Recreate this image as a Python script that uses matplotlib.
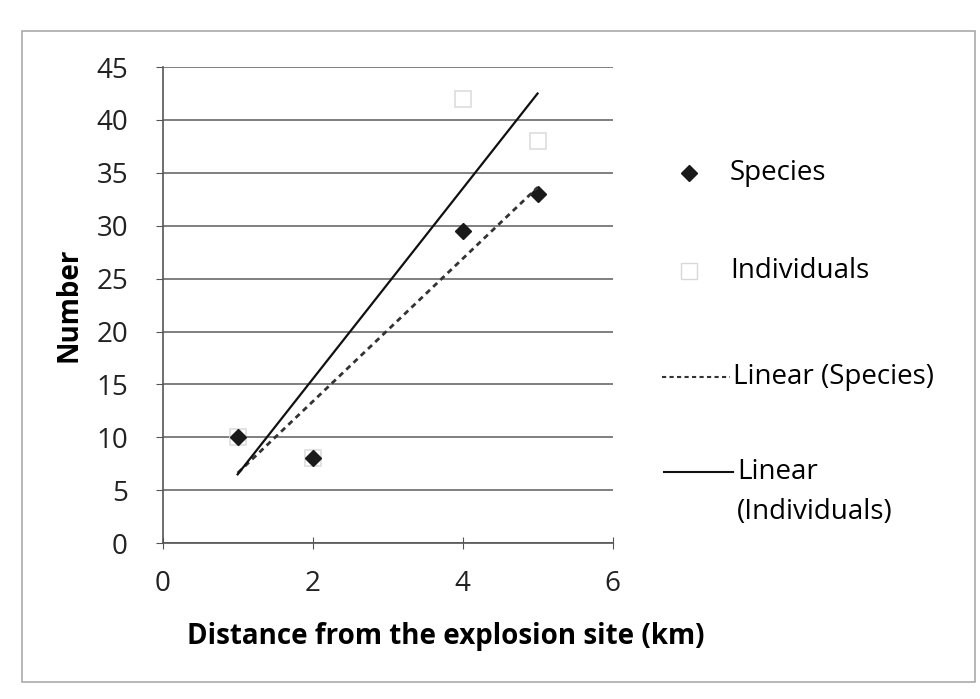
import numpy as np
import matplotlib.pyplot as plt
from matplotlib.patches import Rectangle
from matplotlib.lines import Line2D

# distance from explosion site (km) and counts
distance = [1, 2, 4, 5]
species = [10, 8, 29.5, 33]
individuals = [10, 8, 42, 38]

plt.rcParams['font.family'] = ['Open Sans', 'DejaVu Sans']

fig = plt.figure(figsize=(9.8, 6.99), dpi=100)
ax = fig.add_axes([0.166, 0.223, 0.459, 0.681])

# linear trendlines across the data range
xs = np.array([min(distance), max(distance)])
p_sp = np.polyfit(distance, species, 1)
p_ind = np.polyfit(distance, individuals, 1)

ax.plot(distance, individuals, 's', ms=12, mfc='white', mec='#dddddd', mew=1.2, zorder=3)
ax.plot(distance, species, 'D', ms=8, color='#1a1a1a', zorder=4)
ax.plot(xs, np.polyval(p_sp, xs), color='#333333', lw=2, ls=(0, (2, 1.6)), zorder=5)
ax.plot(xs, np.polyval(p_ind, xs), color='#111111', lw=1.6, zorder=5)

ax.set_xlim(0, 6)
ax.set_ylim(0, 45)
ax.set_xticks([0, 2, 4, 6])
ax.set_yticks(range(0, 50, 5))
ax.grid(axis='y', color='#6a6a6a', lw=1.2)
ax.set_axisbelow(True)
for s in ['top', 'right']:
    ax.spines[s].set_visible(False)
for s in ['left', 'bottom']:
    ax.spines[s].set_color('#555555')
    ax.spines[s].set_linewidth(1.2)
ax.tick_params(axis='both', labelsize=20, colors='#555555', labelcolor='#222222', length=5)
ax.tick_params(axis='y', pad=20)
ax.tick_params(axis='x', pad=15, direction='inout', length=8)
ax.set_xlabel('Distance from the explosion site (km)', fontsize=20, fontweight='bold')
ax.xaxis.set_label_coords(0.63, -0.165)
ax.set_ylabel('Number', fontsize=20, fontweight='bold')
ax.yaxis.set_label_coords(-0.175, 0.5)

# legend on the right
fig.add_artist(Line2D([0.703], [1 - 173 / 699], marker='D', ms=8, color='#1a1a1a', ls=''))
fig.text(0.745, 1 - 173 / 699, 'Species', fontsize=20, va='center')
fig.add_artist(Line2D([0.703], [1 - 271 / 699], marker='s', ms=11, mfc='white', mec='#d8d8d8', ls=''))
fig.text(0.745, 1 - 271 / 699, 'Individuals', fontsize=20, va='center')
fig.add_artist(Line2D([0.675, 0.745], [1 - 377 / 699] * 2, color='#333333', lw=1.5, ls=(0, (2, 1.6))))
fig.text(0.748, 1 - 377 / 699, 'Linear (Species)', fontsize=20, va='center')
fig.add_artist(Line2D([0.678, 0.748], [1 - 472 / 699] * 2, color='#111111', lw=1.5))
fig.text(0.752, 1 - 472 / 699, 'Linear', fontsize=20, va='center')
fig.text(0.752, 1 - 512 / 699, '(Individuals)', fontsize=20, va='center')

# chart border
fig.add_artist(Rectangle((0.022, 0.025), 0.973, 0.93, transform=fig.transFigure,
                         fill=False, ec='#aaaaaa', lw=1.2))

fig.savefig('out.png', dpi=100)
